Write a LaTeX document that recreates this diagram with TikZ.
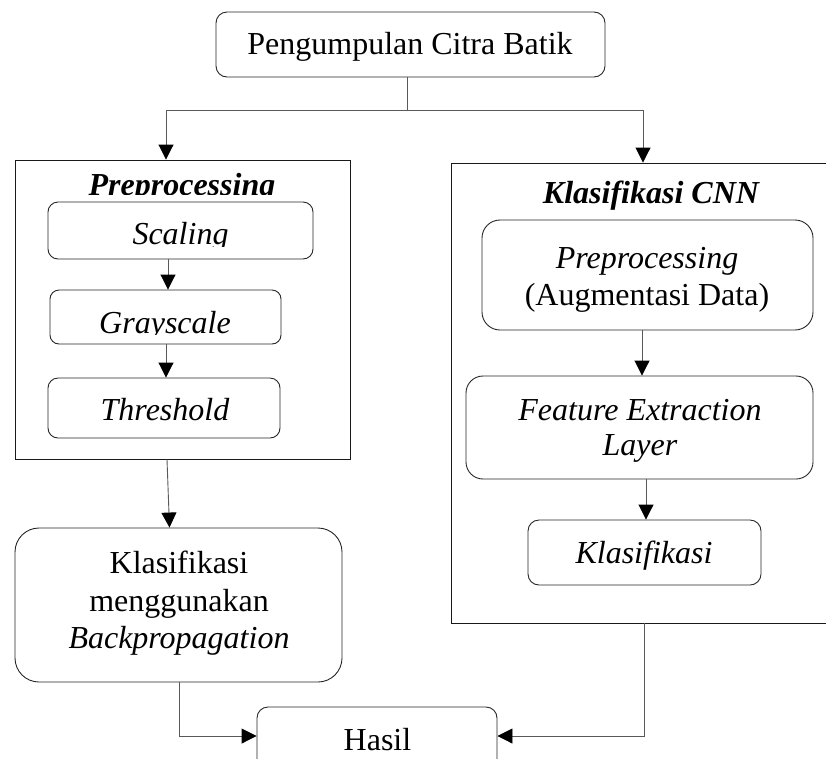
\documentclass[tikz,border=0pt]{standalone}
\usepackage{fontspec}
\setmainfont{Liberation Serif}
\usetikzlibrary{arrows.meta}
\begin{document}
\begin{tikzpicture}[x=1pt,y=-1pt,
  box/.style={draw=black!85, line width=0.9pt, inner sep=0pt},
  frame/.style={draw=black!90, line width=0.9pt, inner sep=0pt},
  txt/.style={inner sep=0pt, anchor=base, font=\fontsize{32}{37}\selectfont},
  ttl/.style={inner sep=0pt, anchor=base, font=\fontsize{32}{37}\selectfont\bfseries\itshape},
  link/.style={draw=black!65, line width=0.9pt},
  conn/.style={link, -{Triangle[width=15pt,length=15pt,color=black]}}]
\useasboundingbox (0,0) rectangle (826,758);
\clip (0,0) rectangle (826,758);

% top step
\node[box, rounded corners=11pt, minimum width=389pt, minimum height=65pt] (top) at (410.5,44.5) {};
\node[txt] (topt) at (410,54) {Pengumpulan Citra Batik};

% left branch: preprocessing group
\node[frame, minimum width=335pt, minimum height=299pt] (lo) at (182.5,309.5) {};
\begin{scope}
  \clip (20,165) rectangle (345,194);
  \node[ttl] (lot) at (182,195) {Preprocessing};
\end{scope}
\node[box, rounded corners=10pt, minimum width=265pt, minimum height=57pt] (scl) at (180.5,230.5) {};
\begin{scope}
  \clip (55,205) rectangle (305,246);
  \node[txt] (sclt) at (180.5,244) {\itshape Scaling};
\end{scope}
\node[box, rounded corners=9pt, minimum width=231pt, minimum height=54pt] (gry) at (165.5,317) {};
\begin{scope}
  \clip (55,292) rectangle (275,334);
  \node[txt] (gryt) at (165,333) {\itshape Grayscale};
\end{scope}
\node[box, rounded corners=10pt, minimum width=232pt, minimum height=60pt] (thr) at (164,408) {};
\node[txt] (thrt) at (165,420) {\itshape Threshold};

% left branch: classifier
\node[box, rounded corners=24pt, minimum width=327pt, minimum height=154pt] (bp) at (178.5,605) {};
\node[txt] (bpa) at (179,573) {Klasifikasi};
\node[txt] (bpb) at (179,611) {menggunakan};
\node[txt] (bpc) at (179,648) {\itshape Backpropagation};

% right branch: CNN group
\node[frame, minimum width=389pt, minimum height=460pt] (ro) at (645.5,393) {};
\node[ttl] (rot) at (651,203) {Klasifikasi CNN};
\node[box, rounded corners=18pt, minimum width=331pt, minimum height=110pt] (pre) at (647.5,275) {};
\node[txt] (prea) at (647,268) {\itshape Preprocessing};
\node[txt] (preb) at (647,305) {(Augmentasi Data)};
\node[box, rounded corners=17pt, minimum width=347pt, minimum height=103pt] (fea) at (639.5,427.5) {};
\node[txt] (feaa) at (640,420) {\itshape Feature Extraction};
\node[txt] (feab) at (640,455) {\itshape Layer};
\node[box, rounded corners=11pt, minimum width=233pt, minimum height=65pt] (kls) at (644.5,552.5) {};
\node[txt] (klst) at (644,563) {\itshape Klasifikasi};

% result
\node[box, rounded corners=11pt, minimum width=240pt, minimum height=65pt] (hsl) at (377,739.5) {};
\node[txt] (hslt) at (377.5,750) {Hasil};

% connector guides
\coordinate (sp) at (407,110);
\coordinate (xl) at (166,0);
\coordinate (xr) at (643,0);
\coordinate (xa) at (168,0);
\coordinate (xb) at (166,0);
\coordinate (xc) at (167,0);
\coordinate (xd) at (169.5,0);
\coordinate (xe) at (642,0);
\coordinate (xf) at (646,0);
\coordinate (xg) at (179,0);
\coordinate (xh) at (644,0);
\coordinate (yh) at (0,736);

% connectors
\draw[link] (top.south -| sp) -- (sp);
\draw[conn] (sp) -| (lo.north -| xl);
\draw[conn] (sp) -| (ro.north -| xr);
\draw[conn] (scl.south -| xa) -- (gry.north -| xa);
\draw[conn] (gry.south -| xb) -- (thr.north -| xb);
\draw[conn] (lo.south -| xc) -- (bp.north -| xd);
\draw[conn] (pre.south -| xe) -- (fea.north -| xe);
\draw[conn] (fea.south -| xf) -- (kls.north -| xf);
\draw[conn] (bp.south -| xg) |- (hsl.west |- yh);
\draw[conn] (ro.south -| xh) |- (hsl.east |- yh);
\end{tikzpicture}
\end{document}
